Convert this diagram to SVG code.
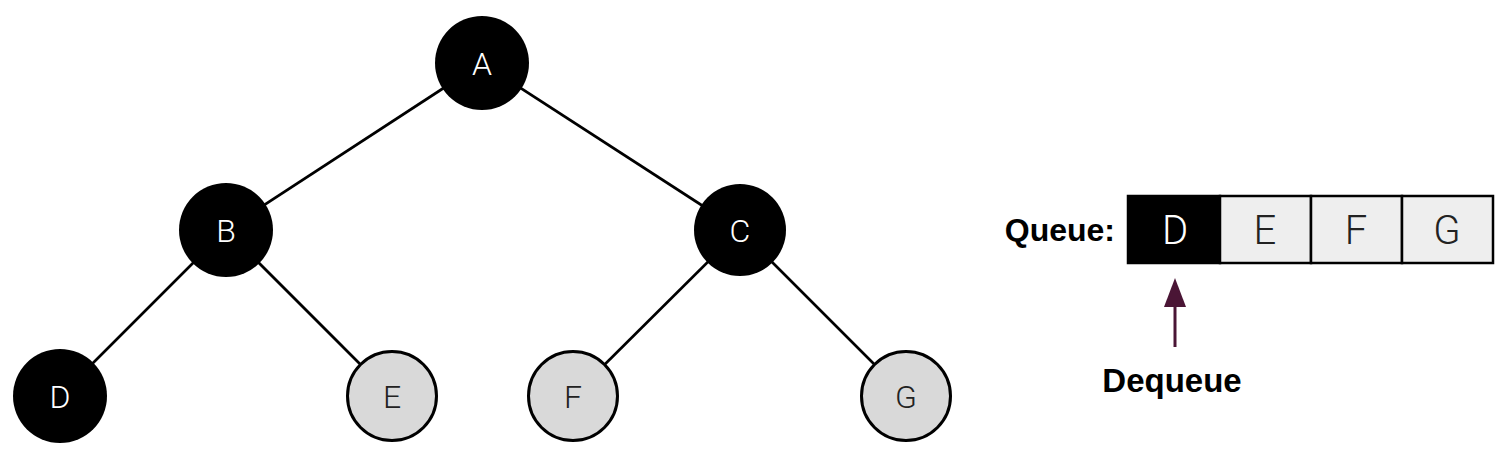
<svg xmlns="http://www.w3.org/2000/svg" width="1512" height="458" viewBox="0 0 1512 458">
<style>
.edge{stroke:#000;stroke-width:2.7;fill:none}
.dark circle{fill:#000}
.light circle{fill:#d9d9d9;stroke:#000;stroke-width:3}
.lbl{font-family:Roboto,"Liberation Sans",sans-serif;font-weight:300;font-size:32px;text-anchor:middle}
.dark text{fill:#fff}
.light text{fill:#222}
.cell{stroke:#000;stroke-width:2.5}
.qtxt{font-family:Roboto,"Liberation Sans",sans-serif;font-weight:300;font-size:40px;text-anchor:middle}
.bold{font-family:"Liberation Sans",Arial,sans-serif;font-weight:bold;fill:#000}
</style>
<g id="connectors">
<line class="edge" x1="482" y1="63" x2="226" y2="230"/>
<line class="edge" x1="482" y1="63" x2="740" y2="230"/>
<line class="edge" x1="226" y1="230" x2="60" y2="396"/>
<line class="edge" x1="226" y1="230" x2="392" y2="396"/>
<line class="edge" x1="740" y1="230" x2="573" y2="396"/>
<line class="edge" x1="740" y1="230" x2="906" y2="396"/>
</g>
<g id="node-A" class="dark"><circle cx="482" cy="63" r="47"/><text class="lbl" x="482" y="75">A</text></g>
<g id="node-B" class="dark"><circle cx="226" cy="230" r="47"/><text class="lbl" x="226" y="242">B</text></g>
<g id="node-C" class="dark"><circle cx="740" cy="230" r="46"/><text class="lbl" x="740" y="242">C</text></g>
<g id="node-D" class="dark"><circle cx="60" cy="396" r="47"/><text class="lbl" x="60" y="408">D</text></g>
<g id="node-E" class="light"><circle cx="392" cy="396" r="44.5"/><text class="lbl" x="392" y="408">E</text></g>
<g id="node-F" class="light"><circle cx="573" cy="396" r="44.5"/><text class="lbl" x="573" y="408">F</text></g>
<g id="node-G" class="light"><circle cx="906" cy="396" r="44.5"/><text class="lbl" x="906" y="408">G</text></g>
<g id="queue">
<text class="bold" x="1115" y="241" text-anchor="end" font-size="32">Queue:</text>
<rect class="cell" x="1128" y="196" width="92" height="67" fill="#000"/>
<rect class="cell" x="1220" y="196" width="91" height="67" fill="#eeeeee"/>
<rect class="cell" x="1311" y="196" width="91" height="67" fill="#eeeeee"/>
<rect class="cell" x="1402" y="196" width="91" height="67" fill="#eeeeee"/>
<text class="qtxt" x="1175" y="244" fill="#fff">D</text>
<text class="qtxt" x="1265" y="244" fill="#222">E</text>
<text class="qtxt" x="1356" y="244" fill="#222">F</text>
<text class="qtxt" x="1447" y="244" fill="#222">G</text>
</g>
<g id="dequeue">
<line x1="1175" y1="347" x2="1175" y2="305" stroke="#4a1535" stroke-width="3"/>
<polygon points="1175,278 1186,307 1164,307" fill="#4a1535"/>
<text class="bold" x="1172" y="392" text-anchor="middle" font-size="33">Dequeue</text>
</g>
</svg>
